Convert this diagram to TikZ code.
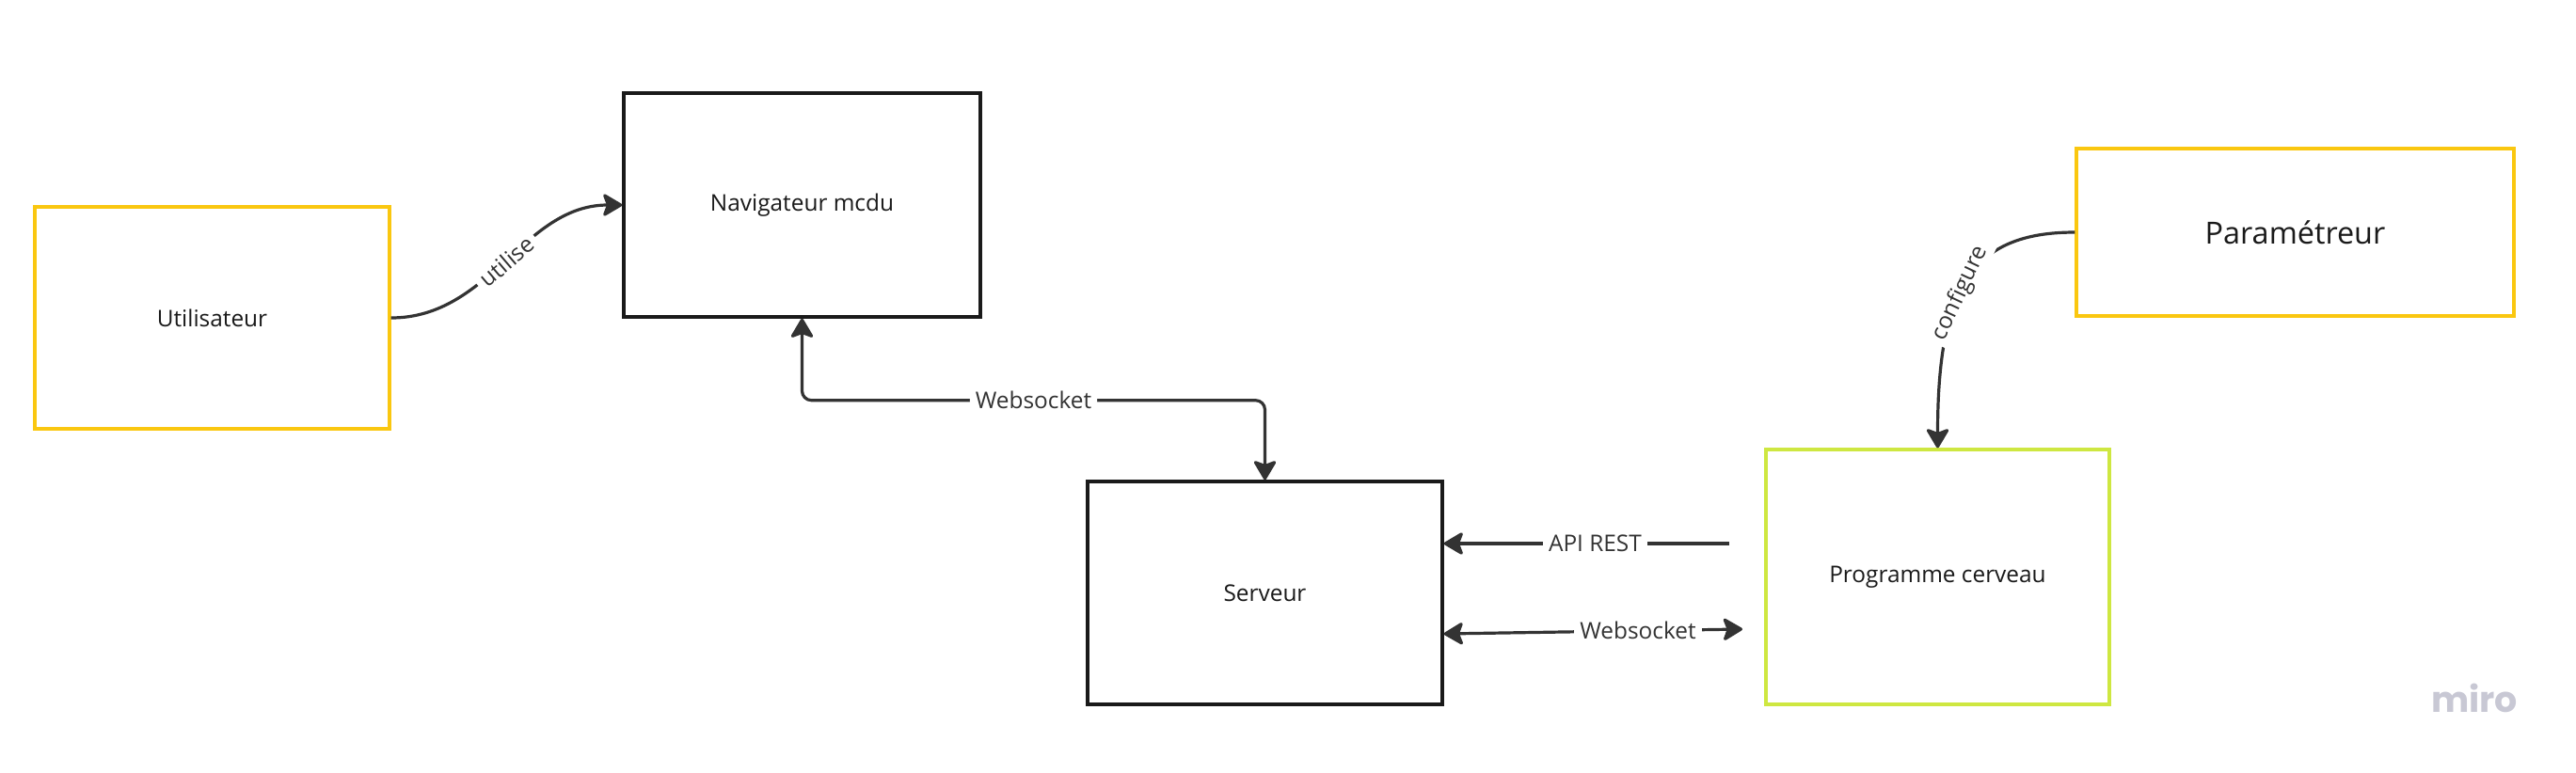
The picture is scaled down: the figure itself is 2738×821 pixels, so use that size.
\documentclass[tikz,border=0pt]{standalone}
\usepackage{fontspec}
\setmainfont{Open Sans}
\newfontfamily\mirofont{Poppins}
\usetikzlibrary{arrows.meta}
\definecolor{boxblack}{HTML}{1A1A1A}
\definecolor{mirayellow}{HTML}{FAC710}
\definecolor{mirogreen}{HTML}{CEE741}
\definecolor{linegray}{HTML}{333333}
\definecolor{wmgray}{HTML}{C8C8D4}
\tikzset{
  box/.style={draw, line width=1.7pt, fill=white, inner sep=0pt, text=boxblack,
    font=\fontsize{12.2}{14}\selectfont},
  blackbox/.style={box, draw=boxblack},
  yellowbox/.style={box, draw=mirayellow},
  greenbox/.style={box, draw=mirogreen},
  conn/.style={draw=linegray, line width=1.6pt},
  tip/.tip={Stealth[length=11.5pt, width=13.5pt, inset=2.5pt, round]},
  lbl/.style={fill=white, text=linegray, inner xsep=3pt, inner ysep=1pt,
    font=\fontsize{12.2}{14}\selectfont}
}
\begin{document}
\begin{tikzpicture}[x=0.5pt, y=-0.5pt]
\useasboundingbox (0,0) rectangle (2738,821);
% boxes
\node[yellowbox, minimum width=188.5pt, minimum height=118pt] (u) at (225.5,338) {Utilisateur};
\node[blackbox, minimum width=189.5pt, minimum height=119pt] (n) at (852.5,218) {Navigateur mcdu};
\node[blackbox, minimum width=188.5pt, minimum height=118.5pt] (s) at (1344.5,630.5) {Serveur};
\node[greenbox, minimum width=182.5pt, minimum height=135.5pt] (c) at (2059.5,613.5) {Programme cerveau};
\node[yellowbox, minimum width=232.5pt, minimum height=89pt, font=\fontsize{16.2}{19}\selectfont] (p) at (2439.5,247) {Paramétreur};
% free ends
\coordinate (ar) at (1838,578);
\coordinate (wr) at (1852,669);
\coordinate (wy) at (0,674);
% connectors
\draw[conn, -{tip}] (u.east) .. controls +(105,0) and +(-105,0) .. node[lbl, sloped] {utilise} (n.west);
\draw[conn, {tip}-{tip}, rounded corners=5pt] (n.south) -- ++(0,87) -| node[lbl, pos=0.25] {Websocket} (s.north);
\draw[conn, -{tip}] (ar) -- node[lbl, pos=0.47] {API REST} (s.east |- ar);
\draw[conn, {tip}-{tip}] (s.east |- wy) -- node[lbl, pos=0.65] {Websocket} (wr);
\draw[conn, -{tip}] (p.west) .. controls +(-110,0) and +(0,-170) .. node[lbl, sloped, pos=0.56] {configure} (c.north);
% watermark
\node[text=wmgray, font=\mirofont\fontsize{19}{22}\selectfont\bfseries] (wm) at (2630,742) {miro};
\end{tikzpicture}
\end{document}
